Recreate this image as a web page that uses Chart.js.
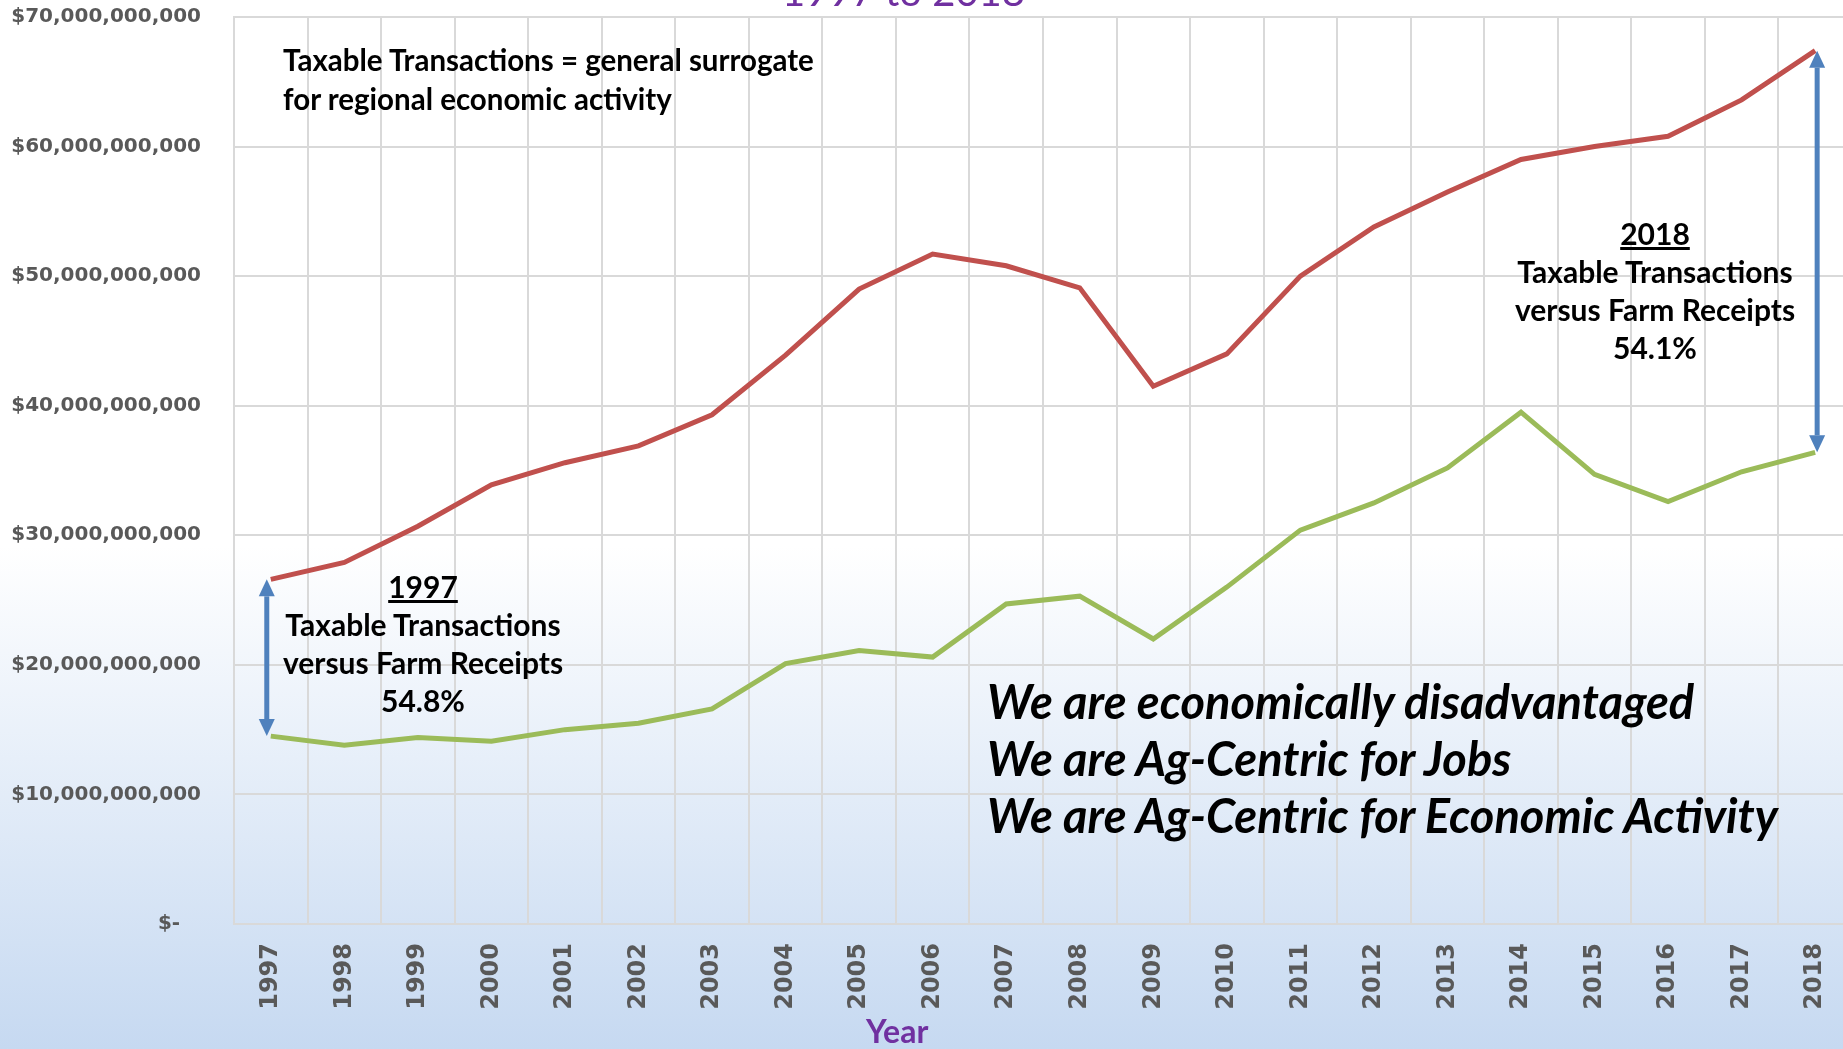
<!DOCTYPE html>
<html>
<head>
<meta charset="utf-8">
<script src="https://cdn.jsdelivr.net/npm/chart.js@4.4.1/dist/chart.umd.min.js"></script>
<style>
  html, body { margin: 0; padding: 0; overflow: hidden; }
  body {
    width: 1843px; height: 1049px;
    background: linear-gradient(to bottom, #ffffff 0%, #ffffff 52%, #c6d9f1 100%);
    position: relative;
  }
  #wrap { position: absolute; left: 0; top: 0; width: 1863px; height: 1049px; }
  .note { position: absolute; color: #000; font-family: Lato, "Open Sans", sans-serif; font-weight: bold; white-space: nowrap; }
  .center { text-align: center; }
  .u { text-decoration: underline; }
</style>
</head>
<body>
<div id="wrap"><canvas id="chart"></canvas></div>

<div class="note" style="left:782px; top:-29px; font-weight:normal; color:#7030A0; font-size:40px; line-height:40px;">1997 to 2018</div>

<div class="note" style="left:283px; top:40px; font-size:29.5px; line-height:39px;">
  Taxable Transactions = general surrogate<br>for regional economic activity
</div>

<div class="note center" style="left:243px; width:360px; top:567px; font-size:30px; line-height:38px;">
  <span class="u">1997</span><br>Taxable Transactions<br>versus Farm Receipts<br>54.8%
</div>

<div class="note center" style="left:1475px; width:360px; top:214px; font-size:30px; line-height:38px;">
  <span class="u">2018</span><br>Taxable Transactions<br>versus Farm Receipts<br>54.1%
</div>

<div class="note" style="left:987px; top:673px; font-size:47px; line-height:57px; font-style:italic;">
  We are economically disadvantaged<br>We are Ag-Centric for Jobs<br>We are Ag-Centric for Economic Activity
</div>

<div class="note" style="left:866px; top:1013px; color:#7030A0; font-size:32px; line-height:36px;">Year</div>

<script>
var years = ["1997", "1998", "1999", "2000", "2001", "2002", "2003", "2004", "2005", "2006", "2007",
  "2008", "2009", "2010", "2011", "2012", "2013", "2014", "2015", "2016", "2017", "2018"];

// values in billions of dollars
var taxable = [26.6, 27.9, 30.7, 33.9, 35.6, 36.9, 39.3, 43.9, 49.0, 51.7, 50.8,
  49.1, 41.5, 44.0, 50.0, 53.8, 56.5, 59.0, 60.0, 60.8, 63.6, 67.4];
var farm = [14.5, 13.8, 14.4, 14.1, 15.0, 15.5, 16.6, 20.1, 21.1, 20.6, 24.7,
  25.3, 22.0, 26.0, 30.4, 32.5, 35.2, 39.5, 34.7, 32.6, 34.9, 36.4];

var yTicks = [0, 10, 20, 30, 40, 50, 60, 70];

function fmtDollars(v) {
  if (v === 0) return "$-   ";
  return "$" + (v * 1e9).toLocaleString("en-US");
}

// double headed arrows between the two lines at first and last year
var arrowPlugin = {
  id: "gapArrows",
  afterDatasetsDraw: function (chart) {
    var xs = chart.scales.x, ys = chart.scales.y;
    var ctx = chart.ctx;
    var marks = [{ i: 0, dx: -4 }, { i: years.length - 1, dx: 2 }];
    ctx.save();
    ctx.strokeStyle = "#4F81BD";
    ctx.fillStyle = "#4F81BD";
    ctx.lineWidth = 5;
    marks.forEach(function (m) {
      var x = xs.getPixelForValue(m.i) + m.dx;
      var yTop = ys.getPixelForValue(taxable[m.i]);
      var yBot = ys.getPixelForValue(farm[m.i]);
      var head = 17, half = 8;
      ctx.beginPath();
      ctx.moveTo(x, yTop + head);
      ctx.lineTo(x, yBot - head);
      ctx.stroke();
      ctx.beginPath();
      ctx.moveTo(x, yTop);
      ctx.lineTo(x - half, yTop + head);
      ctx.lineTo(x + half, yTop + head);
      ctx.closePath();
      ctx.fill();
      ctx.beginPath();
      ctx.moveTo(x, yBot);
      ctx.lineTo(x - half, yBot - head);
      ctx.lineTo(x + half, yBot - head);
      ctx.closePath();
      ctx.fill();
    });
    ctx.restore();
  }
};

var canvas = document.getElementById("chart");
canvas.width = 1863;
canvas.height = 1049;

var myChart = new Chart(canvas.getContext("2d"), {
  type: "line",
  data: {
    labels: years,
    datasets: [{
      label: "Taxable Transactions",
      data: taxable,
      borderColor: "#C0504D",
      borderWidth: 5,
      pointRadius: 0,
      tension: 0,
      fill: false
    }, {
      label: "Farm Receipts",
      data: farm,
      borderColor: "#9BBB59",
      borderWidth: 5,
      pointRadius: 0,
      tension: 0,
      fill: false
    }]
  },
  options: {
    responsive: false,
    animation: false,
    layout: { padding: { top: 16, right: 2, left: 0, bottom: 0 } },
    plugins: {
      legend: { display: false },
      tooltip: { enabled: false }
    },
    scales: {
      x: {
        offset: true,
        grid: { offset: true, color: "#d9d9d9", lineWidth: 2, drawTicks: false },
        border: { color: "#d9d9d9", width: 2 },
        ticks: {
          minRotation: 90,
          maxRotation: 90,
          padding: 19,
          color: "#595959",
          font: { family: "DejaVu Sans", weight: "bold", size: 24 }
        },
        afterFit: function (scale) { scale.height = 125; }
      },
      y: {
        min: 0,
        max: 70,
        afterBuildTicks: function (scale) {
          scale.ticks = yTicks.map(function (v) { return { value: v }; });
        },
        grid: { color: "#d9d9d9", lineWidth: 2, drawTicks: true, tickLength: 28, tickColor: "rgba(0,0,0,0)" },
        border: { color: "#d9d9d9", width: 2 },
        ticks: {
          padding: 5,
          color: "#595959",
          font: { family: "DejaVu Sans", weight: "bold", size: 20 },
          callback: function (v) { return fmtDollars(v); }
        },
        afterFit: function (scale) { scale.width = 234; }
      }
    }
  },
  plugins: [arrowPlugin]
});
</script>
</body>
</html>
